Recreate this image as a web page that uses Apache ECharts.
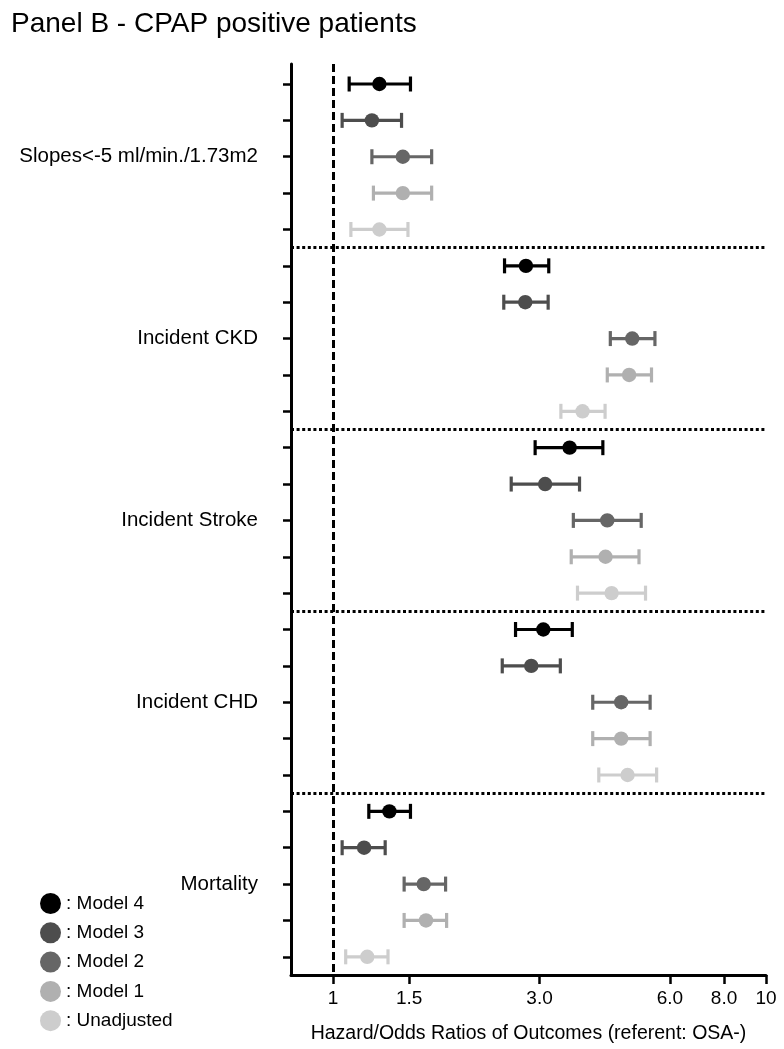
<!DOCTYPE html>
<html>
<head>
<meta charset="utf-8">
<script src="https://cdn.jsdelivr.net/npm/echarts@6/dist/echarts.min.js"></script>
<style>
html,body{margin:0;padding:0;background:#fff;}
#chart{width:784px;height:1049px;}
</style>
</head>
<body>
<div id="chart"></div>
<script>
// ---- data ----
const groups = ['Slopes<-5 ml/min./1.73m2', 'Incident CKD', 'Incident Stroke', 'Incident CHD', 'Mortality'];
const models = ['Model 4', 'Model 3', 'Model 2', 'Model 1', 'Unadjusted'];
const modelColors = ['#000000', '#4d4d4d', '#666666', '#b0b0b0', '#cdcdcd'];

const model4Est = [1.28, 2.79, 3.52, 3.06, 1.35];
const model4Lo  = [1.09, 2.49, 2.93, 2.64, 1.21];
const model4Hi  = [1.51, 3.15, 4.20, 3.57, 1.51];

const model3Est = [1.23, 2.78, 3.09, 2.87, 1.18];
const model3Lo  = [1.05, 2.48, 2.58, 2.46, 1.05];
const model3Hi  = [1.44, 3.14, 3.71, 3.35, 1.32];

const model2Est = [1.45, 4.91, 4.30, 4.63, 1.62];
const model2Lo  = [1.23, 4.37, 3.59, 3.98, 1.46];
const model2Hi  = [1.69, 5.54, 5.15, 5.40, 1.82];

const model1Est = [1.45, 4.83, 4.26, 4.63, 1.64];
const model1Lo  = [1.24, 4.30, 3.55, 3.98, 1.46];
const model1Hi  = [1.69, 5.44, 5.09, 5.40, 1.83];

const unadjEst = [1.28, 3.77, 4.40, 4.79, 1.20];
const unadjLo  = [1.10, 3.36, 3.67, 4.11, 1.07];
const unadjHi  = [1.49, 4.25, 5.27, 5.59, 1.34];

const xTickValues = [1, 1.5, 3, 6, 8, 10];
const xTickLabels = ['1', '1.5', '3.0', '6.0', '8.0', '10'];
const xMinValue = 0.8;
const xMaxValue = 10;
const referenceValue = 1;

// ---- build ----
const allEst = [model4Est, model3Est, model2Est, model1Est, unadjEst];
const allLo  = [model4Lo, model3Lo, model2Lo, model1Lo, unadjLo];
const allHi  = [model4Hi, model3Hi, model2Hi, model1Hi, unadjHi];
const nModels = models.length;
const L = Math.log10;

const rowTicks = [];
for (let i = 0; i < groups.length * nModels; i++) rowTicks.push(i);
const groupCenters = groups.map((g, gi) => gi * nModels + (nModels - 1) / 2);
const separators = [];
for (let gi = 1; gi < groups.length; gi++) separators.push(gi * nModels - 0.5);

function renderItem(params, api) {
  const row = api.value(3);
  const lo = api.coord([api.value(0), row]);
  const pt = api.coord([api.value(1), row]);
  const hi = api.coord([api.value(2), row]);
  const color = api.visual('color');
  const h = 7.5;
  const st = {stroke: color, lineWidth: 3.2, lineCap: 'butt'};
  return {
    type: 'group',
    children: [
      {type: 'line', shape: {x1: lo[0], y1: lo[1], x2: hi[0], y2: hi[1]}, style: st},
      {type: 'line', shape: {x1: lo[0], y1: lo[1] - h, x2: lo[0], y2: lo[1] + h}, style: st},
      {type: 'line', shape: {x1: hi[0], y1: hi[1] - h, x2: hi[0], y2: hi[1] + h}, style: st},
      {type: 'circle', shape: {cx: pt[0], cy: pt[1], r: 7.2}, style: {fill: color}}
    ]
  };
}

const series = models.map((m, mi) => {
  const data = groups.map((g, gi) => [L(allLo[mi][gi]), L(allEst[mi][gi]), L(allHi[mi][gi]), gi * nModels + mi]);
  const s = {
    name: m,
    type: 'custom',
    renderItem: renderItem,
    itemStyle: {color: modelColors[mi]},
    encode: {x: [0, 1, 2], y: 3},
    data: data,
    z: 10 - mi
  };
  if (mi === 0) {
    const mlData = [{xAxis: L(referenceValue), lineStyle: {type: [8, 4], width: 3, color: '#000'}}];
    separators.forEach(v => mlData.push({yAxis: v, lineStyle: {type: [3, 2.6], width: 3, color: '#000'}}));
    s.markLine = {silent: true, symbol: 'none', label: {show: false}, data: mlData, animation: false};
  }
  return s;
});

function xLabel(v) {
  let best = 0, bd = Infinity;
  xTickValues.forEach((t, i) => { const d = Math.abs(L(t) - v); if (d < bd) { bd = d; best = i; } });
  return xTickLabels[best];
}

const chart = echarts.init(document.getElementById('chart'));
chart.setOption({
  animation: false,
  backgroundColor: '#fff',
  textStyle: {fontFamily: 'Liberation Sans, Arial, sans-serif', color: '#000'},
  title: {
    text: 'Panel B - CPAP positive patients',
    left: 6, top: 5,
    textStyle: {fontSize: 28, fontWeight: 'normal', color: '#000', fontFamily: 'Liberation Sans, Arial, sans-serif'}
  },
  legend: {
    orient: 'vertical',
    left: 35, top: 888,
    icon: 'circle',
    itemWidth: 21, itemHeight: 21, itemGap: 8.3,
    formatter: ': {name}',
    textStyle: {fontSize: 19, color: '#000', fontFamily: 'Liberation Sans, Arial, sans-serif'},
    data: models
  },
  grid: {left: 291, right: 18, top: 64, bottom: 70, containLabel: false},
  xAxis: {
    type: 'value',
    min: L(xMinValue), max: L(xMaxValue),
    splitLine: {show: false},
    axisLine: {show: true, onZero: false, lineStyle: {color: '#000', width: 3}},
    axisTick: {show: true, customValues: xTickValues.map(L), length: 9, lineStyle: {color: '#000', width: 2.5}},
    axisLabel: {show: true, customValues: xTickValues.map(L), formatter: xLabel, fontSize: 19, color: '#000', margin: 14},
    name: 'Hazard/Odds Ratios of Outcomes (referent: OSA-)',
    nameLocation: 'middle', nameGap: 49,
    nameTextStyle: {fontSize: 19.5, color: '#000'}
  },
  yAxis: {
    type: 'value',
    inverse: true,
    min: -0.55, max: 24.5,
    splitLine: {show: false},
    axisLine: {show: true, onZero: false, lineStyle: {color: '#000', width: 3}},
    axisTick: {show: true, customValues: rowTicks, length: 8, lineStyle: {color: '#000', width: 2.5}},
    axisLabel: {
      show: true, customValues: groupCenters, margin: 33, fontSize: 20.5, color: '#000',
      formatter: v => groups[Math.round((v - (nModels - 1) / 2) / nModels)]
    }
  },
  series: series
});
</script>
</body>
</html>
